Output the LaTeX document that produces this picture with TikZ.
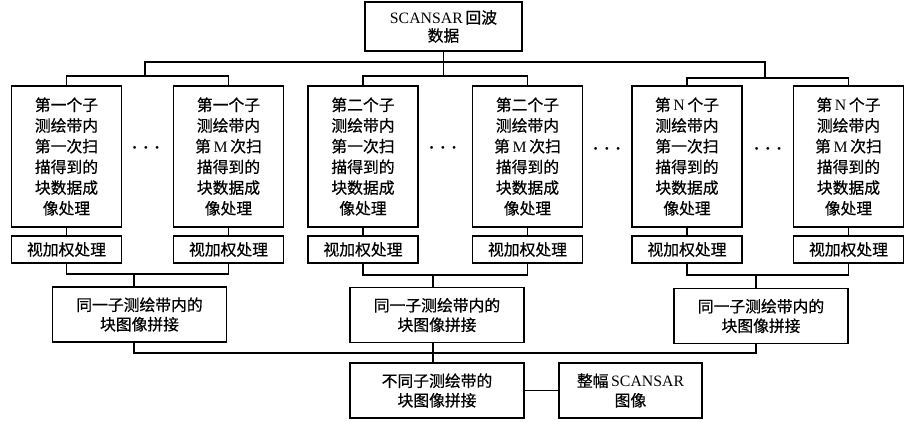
\documentclass[tikz,border=0pt]{standalone}
\usepackage{fontspec}
\setmainfont{Liberation Serif}
\newfontfamily\cjk[FakeBold=0.6]{Noto Sans CJK SC}
\newcommand\lat[1]{{\rmfamily #1}}
\begin{document}
\begin{tikzpicture}[x=1pt,y=-1pt,
  box/.style={draw,line width=1.5pt,inner sep=0pt,align=center,
    font=\cjk\fontsize{15.8}{20.7}\selectfont},
  bigbox/.style={box,minimum width=110pt,minimum height=141pt},
  wbox/.style={box,minimum width=110pt,minimum height=27pt},
  mbox/.style={box,minimum width=174pt,minimum height=55pt,
    font=\cjk\fontsize{15.8}{19.5}\selectfont},
  conn/.style={line width=1.5pt},
  dotsnode/.style={inner sep=0pt,font=\rmfamily\bfseries\fontsize{17}{18}\selectfont}]
\useasboundingbox (0,0) rectangle (911,422);

\node[box,minimum width=157pt,minimum height=49pt,font=\cjk\fontsize{15.8}{18}\selectfont] (top) at (443.5,26.5) {\lat{SCANSAR}\,回波\\数据};

\node[bigbox] (b1) at (66.5,156.5) {第一个子\\测绘带内\\第一次扫\\描得到的\\块数据成\\像处理};
\node[bigbox] (b2) at (228.5,156.5) {第一个子\\测绘带内\\第\,\lat{M}\,次扫\\描得到的\\块数据成\\像处理};
\node[bigbox] (b3) at (363,156.5) {第二个子\\测绘带内\\第一次扫\\描得到的\\块数据成\\像处理};
\node[bigbox] (b4) at (527.5,156.5) {第二个子\\测绘带内\\第\,\lat{M}\,次扫\\描得到的\\块数据成\\像处理};
\node[bigbox] (b5) at (687,156.5) {第\,\lat{N}\,个子\\测绘带内\\第一次扫\\描得到的\\块数据成\\像处理};
\node[bigbox] (b6) at (848.5,156.5) {第\,\lat{N}\,个子\\测绘带内\\第\,\lat{M}\,次扫\\描得到的\\块数据成\\像处理};

\node[dotsnode] (d1) at (146,150) {·\,\,·\,\,·};
\node[dotsnode] (d2) at (443,150) {·\,\,·\,\,·};
\node[dotsnode] (d3) at (607,151) {·\,\,·\,\,·};
\node[dotsnode] (d4) at (768,151) {·\,\,·\,\,·};

\foreach \i in {1,...,6}{
  \node[wbox] (w\i) at (b\i |- 0,249.5) {视加权处理};
  \draw[conn] (b\i.south) -- (w\i.north);
}

\node[mbox] (m1) at (139.5,314.5) {同一子测绘带内的\\块图像拼接};
\node[mbox] (m2) at (437,315) {同一子测绘带内的\\块图像拼接};
\node[mbox] (m3) at (761,316) {同一子测绘带内的\\块图像拼接};
\node[mbox] (f) at (437,390.5) {不同子测绘带的\\块图像拼接};
\node[box,minimum width=143pt,minimum height=55pt,font=\cjk\fontsize{15.8}{19.5}\selectfont] (img) at (630.5,390.5) {整幅\,\lat{SCANSAR}\\图像};

% top tree
\coordinate (j1) at (145,76);
\coordinate (j2) at (443.5,76);
\coordinate (j3) at (765,78);
\coordinate (t1) at (145,62);
\coordinate (t3) at (765,62);
\draw[conn] (b1.north) |- (j1) -| (b2.north);
\draw[conn] (b3.north) |- (j2) -| (b4.north);
\draw[conn] (b5.north) |- (j3) -| (b6.north);
\draw[conn] (top.south) -- (j2);
\draw[conn] (j1) -- (t1) -- (t3) -- (j3);

% lower tree
\coordinate (k1) at (134,274);
\coordinate (k2) at (433,275);
\coordinate (k3) at (756,275);
\draw[conn] (w1.south) |- (k1) -| (w2.south);
\draw[conn] (w3.south) |- (k2) -| (w4.south);
\draw[conn] (w5.south) |- (k3) -| (w6.south);
\draw[conn] (k1) -- (k1 |- m1.north);
\draw[conn] (k2) -- (k2 |- m2.north);
\draw[conn] (k3) -- (k3 |- m3.north);

\coordinate (n1) at (134,353);
\coordinate (n3) at (756,353);
\draw[conn] (k1 |- m1.south) -- (n1) -- (n3) -- (k3 |- m3.south);
\draw[conn] (k2 |- m2.south) -- (k2 |- f.north);
\draw[conn] (f.east) -- (img.west);
\end{tikzpicture}
\end{document}
